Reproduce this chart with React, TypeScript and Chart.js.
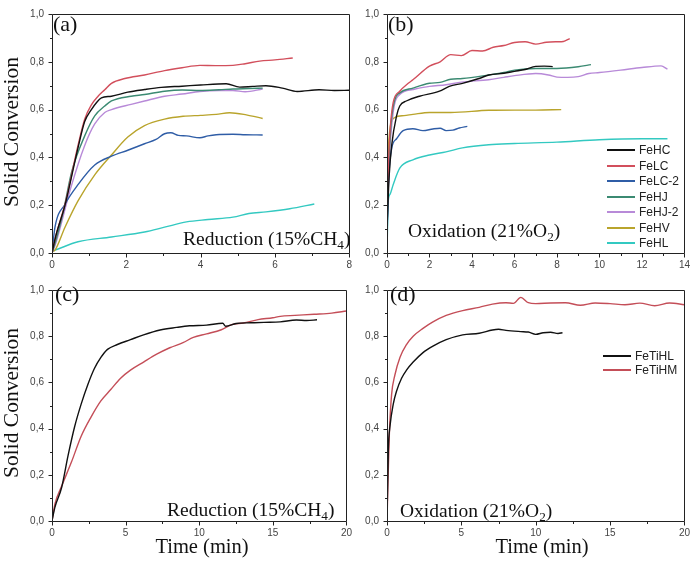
import React, { useEffect, useRef } from 'react';
import { Chart, registerables } from 'chart.js';
Chart.register(...registerables);

// ---------- Series names & colours ----------
const SERIES_AB = ['FeHC', 'FeLC', 'FeLC-2', 'FeHJ', 'FeHJ-2', 'FeHV', 'FeHL'];
const COLORS_AB = ['#111111', '#d24f5c', '#2f5da6', '#3b8a72', '#b88ad8', '#b9a42c', '#33c9c1'];
const SERIES_CD = ['FeTiHL', 'FeTiHM'];
const COLORS_CD = ['#111111', '#c44e58'];

// ---------- Axis ticks ----------
const Y_MIN = 0, Y_MAX = 1, Y_STEP = 0.2;
const A_X_MAX = 8, A_X_STEP = 2;
const B_X_MAX = 14, B_X_STEP = 2;
const C_X_MAX = 20, C_X_STEP = 5;
const D_X_MAX = 20, D_X_STEP = 5;

// ---------- Panel (a): Reduction (15% CH4) ----------
const A_T_FeHC = [0, 0.1, 0.35, 0.7, 0.88, 1.06, 1.2, 1.33, 1.6, 2.04, 2.49, 2.94, 3.5, 4.0, 4.69, 5.05, 5.4, 5.76, 6.2, 6.6, 7.19, 7.6, 8.0];
const A_FeHC = [0, 0.07, 0.2, 0.44, 0.55, 0.6, 0.63, 0.649, 0.656, 0.673, 0.684, 0.693, 0.698, 0.703, 0.708, 0.694, 0.697, 0.7, 0.69, 0.676, 0.683, 0.68, 0.681];
const A_T_FeLC = [0, 0.1, 0.35, 0.7, 0.88, 1.06, 1.24, 1.42, 1.6, 1.96, 2.49, 3.03, 3.5, 3.98, 4.4, 4.87, 5.2, 5.59, 6.0, 6.48];
const A_FeLC = [0, 0.07, 0.204, 0.45, 0.56, 0.62, 0.656, 0.683, 0.71, 0.73, 0.745, 0.763, 0.775, 0.785, 0.784, 0.785, 0.792, 0.803, 0.808, 0.816];
const A_T_FeLC2 = [0, 0.08, 0.35, 0.7, 1.15, 1.6, 2.04, 2.49, 2.8, 3.03, 3.2, 3.4, 3.62, 3.98, 4.2, 4.42, 4.87, 5.2, 5.67];
const A_FeLC2 = [0, 0.108, 0.204, 0.286, 0.368, 0.405, 0.43, 0.457, 0.475, 0.499, 0.503, 0.492, 0.49, 0.482, 0.49, 0.495, 0.497, 0.495, 0.494];
const A_T_FeHJ = [0, 0.1, 0.3, 0.53, 0.88, 1.15, 1.42, 1.6, 2.13, 2.49, 3.03, 3.5, 3.98, 4.5, 4.87, 5.3, 5.67];
const A_FeHJ = [0, 0.05, 0.17, 0.34, 0.49, 0.574, 0.615, 0.636, 0.656, 0.663, 0.677, 0.682, 0.68, 0.683, 0.686, 0.688, 0.69];
const A_T_FeHJ2 = [0, 0.1, 0.5, 0.88, 1.15, 1.42, 1.6, 2.13, 2.49, 3.03, 3.5, 3.98, 4.5, 4.87, 5.2, 5.67];
const A_FeHJ2 = [0, 0.04, 0.27, 0.45, 0.54, 0.588, 0.6, 0.622, 0.636, 0.656, 0.665, 0.676, 0.68, 0.68, 0.675, 0.686];
const A_T_FeHV = [0, 0.08, 0.35, 0.7, 1.15, 1.6, 2.04, 2.49, 3.03, 3.53, 4.0, 4.42, 4.78, 5.23, 5.67];
const A_FeHV = [0.005, 0.012, 0.108, 0.218, 0.327, 0.41, 0.485, 0.533, 0.56, 0.572, 0.576, 0.58, 0.587, 0.578, 0.563];
const A_T_FeHL = [0, 0.08, 0.7, 1.6, 2.49, 3.03, 3.62, 4.2, 4.87, 5.3, 5.76, 6.4, 7.06];
const A_FeHL = [0.008, 0.012, 0.047, 0.067, 0.088, 0.108, 0.13, 0.14, 0.15, 0.165, 0.172, 0.185, 0.205];

// ---------- Panel (b): Oxidation (21% O2) ----------
const B_T_FeHC = [0, 0.1, 0.22, 0.45, 0.6, 0.91, 1.53, 2.47, 2.93, 3.55, 4.33, 4.79, 5.5, 6.0, 6.5, 7.0, 7.4, 7.8];
const B_FeHC = [0.1, 0.32, 0.45, 0.574, 0.615, 0.636, 0.656, 0.677, 0.697, 0.71, 0.73, 0.745, 0.752, 0.76, 0.768, 0.781, 0.782, 0.78];
const B_T_FeLC = [0, 0.08, 0.15, 0.29, 0.6, 1.0, 1.22, 2.0, 2.5, 3.0, 3.5, 4.0, 4.5, 5.0, 5.5, 6.0, 6.5, 7.0, 7.5, 8.0, 8.3, 8.6];
const B_FeLC = [0.15, 0.4, 0.52, 0.629, 0.677, 0.71, 0.725, 0.782, 0.8, 0.83, 0.826, 0.847, 0.845, 0.861, 0.868, 0.881, 0.884, 0.874, 0.882, 0.884, 0.885, 0.897];
const B_T_FeLC2 = [0, 0.06, 0.22, 0.45, 0.76, 1.22, 1.69, 2.16, 2.5, 2.78, 3.1, 3.4, 3.78];
const B_FeLC2 = [0.05, 0.27, 0.437, 0.478, 0.512, 0.52, 0.512, 0.519, 0.522, 0.512, 0.514, 0.523, 0.53];
const B_T_FeHJ = [0, 0.1, 0.2, 0.37, 0.6, 1.22, 2.0, 2.5, 3.0, 3.55, 4.79, 5.5, 6.0, 7.0, 8.0, 9.0, 9.6];
const B_FeHJ = [0.1, 0.4, 0.55, 0.642, 0.67, 0.69, 0.71, 0.714, 0.727, 0.73, 0.745, 0.755, 0.765, 0.772, 0.772, 0.779, 0.788];
const B_T_FeHJ2 = [0, 0.1, 0.29, 0.6, 1.22, 2.0, 2.78, 3.5, 4.79, 5.5, 6.0, 7.0, 7.6, 8.0, 8.5, 9.0, 9.5, 10.0, 11.0, 12.0, 12.9, 13.2];
const B_FeHJ2 = [0.1, 0.38, 0.588, 0.663, 0.684, 0.697, 0.704, 0.715, 0.725, 0.735, 0.742, 0.751, 0.745, 0.736, 0.735, 0.738, 0.751, 0.755, 0.765, 0.776, 0.783, 0.769];
const B_T_FeHV = [0, 0.05, 0.14, 0.37, 0.8, 1.22, 2.0, 3.0, 4.79, 6.0, 7.0, 8.2];
const B_FeHV = [0.2, 0.4, 0.52, 0.567, 0.575, 0.58, 0.588, 0.588, 0.597, 0.598, 0.598, 0.6];
const B_T_FeHL = [0, 0.06, 0.14, 0.29, 0.6, 1.22, 2.0, 2.78, 3.55, 4.79, 6.0, 8.0, 10.0, 12.0, 13.2];
const B_FeHL = [0, 0.218, 0.245, 0.286, 0.355, 0.39, 0.41, 0.423, 0.44, 0.453, 0.458, 0.464, 0.474, 0.478, 0.478];

// ---------- Panel (c): Reduction (15% CH4) ----------
const C_T_FeTiHL = [0, 0.2, 0.65, 1.09, 1.54, 1.98, 2.43, 2.88, 3.32, 3.77, 4.44, 5.33, 6.22, 7.34, 8.45, 9.34, 10.5, 11.6, 11.8, 12.5, 13.5, 14.4, 15.5, 16.6, 17.3, 18.0];
const C_FeTiHL = [0, 0.06, 0.144, 0.283, 0.409, 0.506, 0.59, 0.66, 0.708, 0.743, 0.764, 0.785, 0.806, 0.827, 0.838, 0.845, 0.848, 0.856, 0.843, 0.855, 0.858, 0.86, 0.862, 0.87, 0.868, 0.871];
const C_T_FeTiHM = [0, 0.2, 0.65, 1.32, 1.98, 2.65, 3.32, 3.99, 4.66, 5.33, 6.22, 7.11, 8.0, 8.9, 9.6, 10.5, 11.5, 12.2, 13.0, 14.0, 15.0, 15.5, 16.5, 17.8, 19.0, 20.0];
const C_FeTiHM = [0, 0.074, 0.15, 0.255, 0.367, 0.45, 0.52, 0.569, 0.618, 0.653, 0.688, 0.722, 0.75, 0.772, 0.795, 0.81, 0.828, 0.85, 0.857, 0.872, 0.88, 0.886, 0.89, 0.895, 0.9, 0.909];

// ---------- Panel (d): Oxidation (21% O2) ----------
const D_T_FeTiHL = [0, 0.09, 0.2, 0.42, 0.64, 0.98, 1.31, 1.76, 2.42, 3.09, 3.98, 5.09, 6.2, 7.09, 7.5, 8.0, 9.0, 9.5, 10.0, 10.5, 11.0, 11.5, 11.8];
const D_FeTiHL = [0, 0.31, 0.41, 0.506, 0.562, 0.618, 0.653, 0.688, 0.729, 0.757, 0.785, 0.806, 0.813, 0.827, 0.83, 0.825, 0.82, 0.818, 0.808, 0.815, 0.817, 0.812, 0.815];
const D_T_FeTiHM = [0, 0.09, 0.16, 0.31, 0.53, 0.87, 1.31, 1.76, 2.42, 3.09, 3.98, 5.09, 6.2, 7.09, 8.0, 8.5, 9.0, 9.5, 10.0, 11.0, 12.0, 13.0, 14.0, 15.0, 16.0, 17.0, 18.0, 19.0, 20.0];
const D_FeTiHM = [0, 0.227, 0.38, 0.548, 0.632, 0.708, 0.764, 0.8, 0.834, 0.862, 0.89, 0.911, 0.925, 0.939, 0.945, 0.942, 0.968, 0.945, 0.941, 0.944, 0.945, 0.934, 0.944, 0.941, 0.936, 0.943, 0.932, 0.944, 0.936];

// ---------- helpers ----------
const pts = (t: number[], v: number[]) => t.map((x, i) => ({ x, y: v[i] }));

const makeSets = (names: string[], colors: string[], times: number[][], vals: number[][]) =>
  names.map((n, i) => ({
    label: n,
    data: pts(times[i], vals[i]),
    showLine: true,
    borderColor: colors[i],
    backgroundColor: colors[i],
    borderWidth: 1.4,
    pointRadius: 0,
    fill: false,
    cubicInterpolationMode: 'monotone' as const,
  }));

const frameTicksPlugin = {
  id: 'frameTicks',
  afterDraw(chart: any) {
    const { ctx, chartArea, scales } = chart;
    const { left, right, top, bottom } = chartArea;
    const xs = scales.x, ys = scales.y;
    ctx.save();
    ctx.strokeStyle = '#222';
    ctx.lineWidth = 1;
    ctx.beginPath();
    const L = Math.round(left) + 0.5, T = Math.round(top) + 0.5;
    const R = Math.round(right) + 0.5, B = Math.round(bottom) + 0.5;
    ctx.rect(L, T, R - L, B - T);
    const xt = xs.ticks.map((t: any) => t.value);
    xt.forEach((v: number, i: number) => {
      const px = Math.round(xs.getPixelForValue(v)) + 0.5;
      ctx.moveTo(px, B); ctx.lineTo(px, B + 4);
      if (i < xt.length - 1) {
        const pm = Math.round(xs.getPixelForValue((v + xt[i + 1]) / 2)) + 0.5;
        ctx.moveTo(pm, B); ctx.lineTo(pm, B + 2.5);
      }
    });
    const yt = ys.ticks.map((t: any) => t.value);
    yt.forEach((v: number, i: number) => {
      const py = Math.round(ys.getPixelForValue(v)) + 0.5;
      ctx.moveTo(L, py); ctx.lineTo(L - 4, py);
      if (i < yt.length - 1) {
        const pm = Math.round(ys.getPixelForValue((v + yt[i + 1]) / 2)) + 0.5;
        ctx.moveTo(L, pm); ctx.lineTo(L - 2.5, pm);
      }
    });
    ctx.stroke();
    ctx.restore();
  },
};

type PanelProps = {
  left: number; top: number; width: number; height: number;
  padTop: number; padRight: number; yWidth: number; xHeight: number;
  xMax: number; xStep: number; datasets: any[];
};

function Panel(p: PanelProps) {
  const ref = useRef<HTMLCanvasElement | null>(null);
  useEffect(() => {
    if (!ref.current) return;
    const tickFont = { family: "'Liberation Sans', Arial, sans-serif", size: 10 };
    const chart = new Chart(ref.current, {
      type: 'scatter',
      data: { datasets: p.datasets },
      options: {
        animation: false,
        responsive: false,
        maintainAspectRatio: false,
        devicePixelRatio: 1,
        layout: { padding: { top: p.padTop, right: p.padRight, left: 0, bottom: 0 } },
        plugins: { legend: { display: false }, tooltip: { enabled: false } },
        scales: {
          x: {
            type: 'linear', min: 0, max: p.xMax,
            grid: { display: false, drawTicks: false },
            border: { display: false },
            ticks: { stepSize: p.xStep, padding: 6, color: '#444', font: tickFont, callback: (v: any) => String(v) },
            afterFit: (s: any) => { s.height = p.xHeight; },
          },
          y: {
            type: 'linear', min: Y_MIN, max: Y_MAX,
            grid: { display: false, drawTicks: false },
            border: { display: false },
            ticks: { stepSize: Y_STEP, padding: 8, color: '#444', font: tickFont,
              callback: (v: any) => Number(v).toFixed(1).replace('.', ',') },
            afterFit: (s: any) => { s.width = p.yWidth; },
          },
        },
      } as any,
      plugins: [frameTicksPlugin],
    });
    return () => chart.destroy();
  }, []);
  return (
    <canvas ref={ref} width={p.width} height={p.height}
      style={{ position: 'absolute', left: p.left, top: p.top, width: p.width, height: p.height }} />
  );
}

const serif = "'Liberation Serif', 'Times New Roman', serif";
const sans = "'Liberation Sans', Arial, sans-serif";

function Txt(props: { left: number; top: number; size: number; children: any; family?: string }) {
  return (
    <div style={{ position: 'absolute', left: props.left, top: props.top, fontSize: props.size,
      lineHeight: 1, fontFamily: props.family || serif, color: '#111', whiteSpace: 'nowrap' }}>
      {props.children}
    </div>
  );
}

const Sub = ({ c }: { c: string }) => (
  <span style={{ fontSize: '0.68em', position: 'relative', top: '0.28em' }}>{c}</span>
);

function Legend(props: { left: number; top: number; names: string[]; colors: string[]; step: number }) {
  return (
    <div style={{ position: 'absolute', left: props.left, top: props.top }}>
      {props.names.map((n, i) => (
        <div key={n} style={{ position: 'absolute', left: 0, top: i * props.step - 7, height: 14, whiteSpace: 'nowrap',
          display: 'flex', alignItems: 'center', fontFamily: sans, fontSize: 12, color: '#222' }}>
          <div style={{ width: 28, height: 2, background: props.colors[i], marginRight: 4 }} />
          <span>{n}</span>
        </div>
      ))}
    </div>
  );
}

export default function App() {
  const setsA = makeSets(SERIES_AB, COLORS_AB,
    [A_T_FeHC, A_T_FeLC, A_T_FeLC2, A_T_FeHJ, A_T_FeHJ2, A_T_FeHV, A_T_FeHL],
    [A_FeHC, A_FeLC, A_FeLC2, A_FeHJ, A_FeHJ2, A_FeHV, A_FeHL]);
  const setsB = makeSets(SERIES_AB, COLORS_AB,
    [B_T_FeHC, B_T_FeLC, B_T_FeLC2, B_T_FeHJ, B_T_FeHJ2, B_T_FeHV, B_T_FeHL],
    [B_FeHC, B_FeLC, B_FeLC2, B_FeHJ, B_FeHJ2, B_FeHV, B_FeHL]);
  const setsC = makeSets(SERIES_CD, COLORS_CD, [C_T_FeTiHL, C_T_FeTiHM], [C_FeTiHL, C_FeTiHM]);
  const setsD = makeSets(SERIES_CD, COLORS_CD, [D_T_FeTiHL, D_T_FeTiHM], [D_FeTiHL, D_FeTiHM]);

  return (
    <div style={{ position: 'absolute', left: 0, top: 0, width: 696, height: 564, background: '#fff', overflow: 'hidden' }}>
      <Panel left={0} top={0} width={358} height={276} padTop={9} padRight={8} yWidth={52} xHeight={23}
        xMax={A_X_MAX} xStep={A_X_STEP} datasets={setsA} />
      <Panel left={340} top={0} width={356} height={276} padTop={9} padRight={8} yWidth={47} xHeight={23}
        xMax={B_X_MAX} xStep={B_X_STEP} datasets={setsB} />
      <Panel left={0} top={276} width={358} height={270} padTop={6} padRight={7} yWidth={52} xHeight={25}
        xMax={C_X_MAX} xStep={C_X_STEP} datasets={setsC} />
      <Panel left={340} top={276} width={356} height={270} padTop={6} padRight={9} yWidth={47} xHeight={25}
        xMax={D_X_MAX} xStep={D_X_STEP} datasets={setsD} />

      <Txt left={53} top={13} size={22}>(a)</Txt>
      <Txt left={388} top={13} size={22}>(b)</Txt>
      <Txt left={55} top={283} size={22}>(c)</Txt>
      <Txt left={390} top={283} size={22}>(d)</Txt>

      <Txt left={183} top={229} size={19.5}>Reduction (15%CH<Sub c="4" />)</Txt>
      <Txt left={408} top={221} size={19.5}>Oxidation (21%O<Sub c="2" />)</Txt>
      <Txt left={167} top={500} size={19.5}>Reduction (15%CH<Sub c="4" />)</Txt>
      <Txt left={400} top={501} size={19.5}>Oxidation (21%O<Sub c="2" />)</Txt>

      {[132, 403].map((cy) => (
        <div key={cy} style={{ position: 'absolute', left: 12, top: cy, transform: 'translate(-50%, -50%) rotate(-90deg)',
          fontFamily: serif, fontSize: 21.5, lineHeight: 1, whiteSpace: 'nowrap', color: '#111' }}>Solid Conversion</div>
      ))}
      {[202, 542].map((cx) => (
        <div key={cx} style={{ position: 'absolute', left: cx, top: 536, transform: 'translateX(-50%)',
          fontFamily: serif, fontSize: 20.5, lineHeight: 1, whiteSpace: 'nowrap', color: '#111' }}>Time (min)</div>
      ))}

      <Legend left={607} top={150} names={SERIES_AB} colors={COLORS_AB} step={15.5} />
      <Legend left={603} top={356} names={SERIES_CD} colors={COLORS_CD} step={14} />
    </div>
  );
}
